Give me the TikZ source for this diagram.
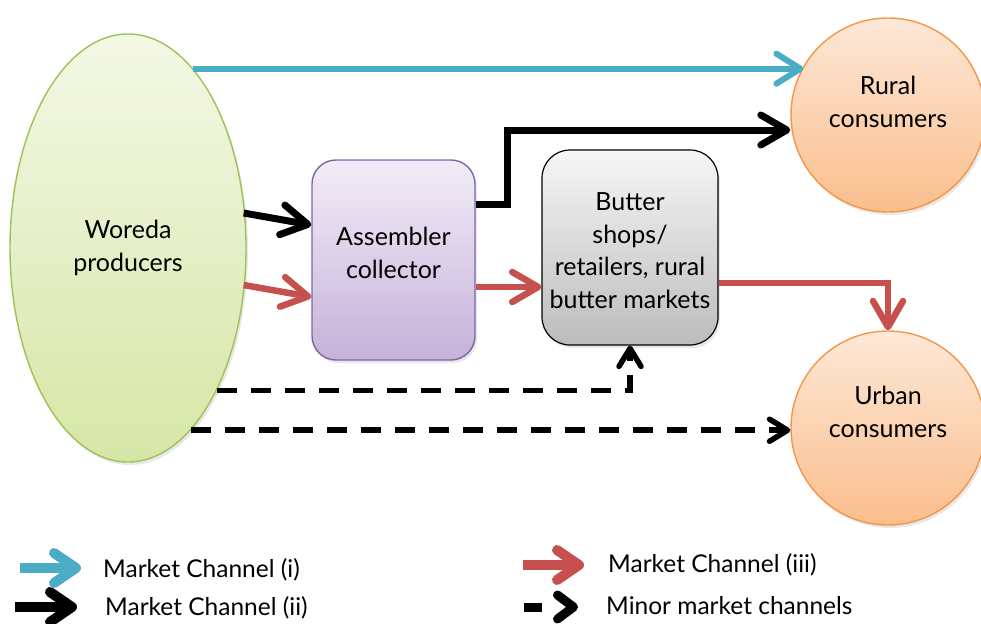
\documentclass[tikz,border=0pt]{standalone}
\usepackage{fontspec}
\setmainfont{Lato}
\usetikzlibrary{arrows.meta,calc,shapes.geometric,shadows}
\definecolor{chBlue}{RGB}{75,172,198}
\definecolor{chRed}{RGB}{198,80,77}
\definecolor{prodBorder}{RGB}{155,195,85}
\definecolor{prodTop}{RGB}{244,248,230}
\definecolor{prodBot}{RGB}{214,230,165}
\definecolor{asmBorder}{RGB}{128,100,165}
\definecolor{asmTop}{RGB}{242,236,247}
\definecolor{asmBot}{RGB}{198,178,218}
\definecolor{grTop}{RGB}{246,246,246}
\definecolor{grBot}{RGB}{188,188,188}
\definecolor{orBorder}{RGB}{244,150,70}
\definecolor{orTop}{RGB}{253,232,215}
\definecolor{orBot}{RGB}{250,190,140}
\begin{document}
\begin{tikzpicture}[x=1pt,y=-1pt,
  maintext/.style={font=\fontsize{25}{32.5}\selectfont, align=center, text=black},
  legtext/.style={font=\fontsize{24.5}{28}\selectfont, anchor=west, inner sep=0pt, text=black},
  shad/.style={drop shadow={opacity=0.18, shadow xshift=2pt, shadow yshift=-3pt}},
  prodsty/.style={ellipse, draw=prodBorder, line width=1.4pt, top color=prodTop, bottom color=prodBot,
    minimum width=236pt, minimum height=428pt, inner sep=0pt, maintext, shad},
  asmsty/.style={rectangle, rounded corners=24pt, draw=asmBorder, line width=1.4pt, top color=asmTop, bottom color=asmBot,
    minimum width=163pt, minimum height=200pt, inner sep=0pt, maintext, shad},
  butsty/.style={rectangle, rounded corners=28pt, draw=black, line width=1.2pt, top color=grTop, bottom color=grBot,
    minimum width=176pt, minimum height=195pt, inner sep=0pt, maintext, shad},
  consty/.style={circle, draw=orBorder, line width=1.4pt, top color=orTop, bottom color=orBot,
    minimum size=194pt, inner sep=0pt, shad},
  chevron/.style={-{Straight Barb[length=24pt,width=30pt,round]}},
  bigchevron/.style={-{Straight Barb[length=26pt,width=30pt,round]}},
  smallchev/.style={-{Straight Barb[length=18pt,width=22pt,round]}},
  bluearr/.style={draw=chBlue, line width=6pt, chevron},
  blackarr/.style={draw=black, line width=7pt, bigchevron},
  redarr/.style={draw=chRed, line width=6.5pt, bigchevron},
  dasharr/.style={draw=black, line width=5.5pt, dash pattern=on 20pt off 14pt, smallchev},
  legtip/.style={-{Straight Barb[length=22pt,width=30pt,round]}},
  legblue/.style={draw=chBlue, line width=10pt, legtip},
  legblack/.style={draw=black, line width=10pt, legtip},
  legred/.style={draw=chRed, line width=10pt, legtip},
  legdash/.style={draw=black, line width=9pt, dash pattern=on 18pt off 200pt, -{Straight Barb[length=16pt,width=24pt,round]}}
]
\useasboundingbox (0,0) rectangle (981,623);

% nodes
\node[prodsty] (prod) at (128,248) {Woreda\\producers};
\node[asmsty] (asm) at (393.5,260) {Assembler\\collector\\[-18pt]\mbox{}};
\node[butsty] (butter) at (630,247.5) {\mbox{}\\[-8pt]Butter\\shops/\\retailers, rural\\butter markets};
\node[consty, label={[maintext, yshift=13pt]center:Rural\\consumers}] (rural) at (888,115) {};
\node[consty, label={[maintext, yshift=16pt]center:Urban\\consumers}] (urban) at (888,428) {};

% Channel (i)
\draw[bluearr] (prod.70.8) -- (prod.70.8 -| rural.150);

% Channel (ii)
\draw[blackarr] ($(prod.east)+(-3,-35)$) -- ($(asm.west)+(0,-35)$);
\draw[blackarr] ($(asm.east)+(0,-56)$) -- ++(32,0) |- ($(rural.west)+(0,15)$);

% Channel (iii)
\draw[redarr] ($(prod.east)+(-3,37)$) -- ($(asm.west)+(0,37)$);
\draw[redarr] ($(asm.east)+(0,27)$) -- ($(butter.west)+(0,39.5)$);
\draw[redarr] ($(butter.east)+(0,35.5)$) -| (urban.north);

% Minor channels
\draw[dasharr] (prod.-58.2) -| (butter.south);
\draw[dasharr] (prod.-71.9) -- (prod.-71.9 -| urban.west);

% Legend
\coordinate (l1a) at (20,568);  \coordinate (l1b) at (81,568);
\coordinate (l2a) at (15,607);  \coordinate (l2b) at (77,607);
\coordinate (l3a) at (523,565); \coordinate (l3b) at (584,565);
\coordinate (l4a) at (524,607); \coordinate (l4b) at (578,607);
\draw[legblue] (l1a) -- (l1b);
\draw[legblack] (l2a) -- (l2b);
\draw[legred] (l3a) -- (l3b);
\draw[legdash] (l4a) -- (l4b);
\node[legtext] (t1) at (103,570) {Market Channel (i)};
\node[legtext] (t2) at (105,608) {Market Channel (ii)};
\node[legtext] (t3) at (608,565) {Market Channel (iii)};
\node[legtext] (t4) at (606,606) {Minor market channels};
\end{tikzpicture}
\end{document}
